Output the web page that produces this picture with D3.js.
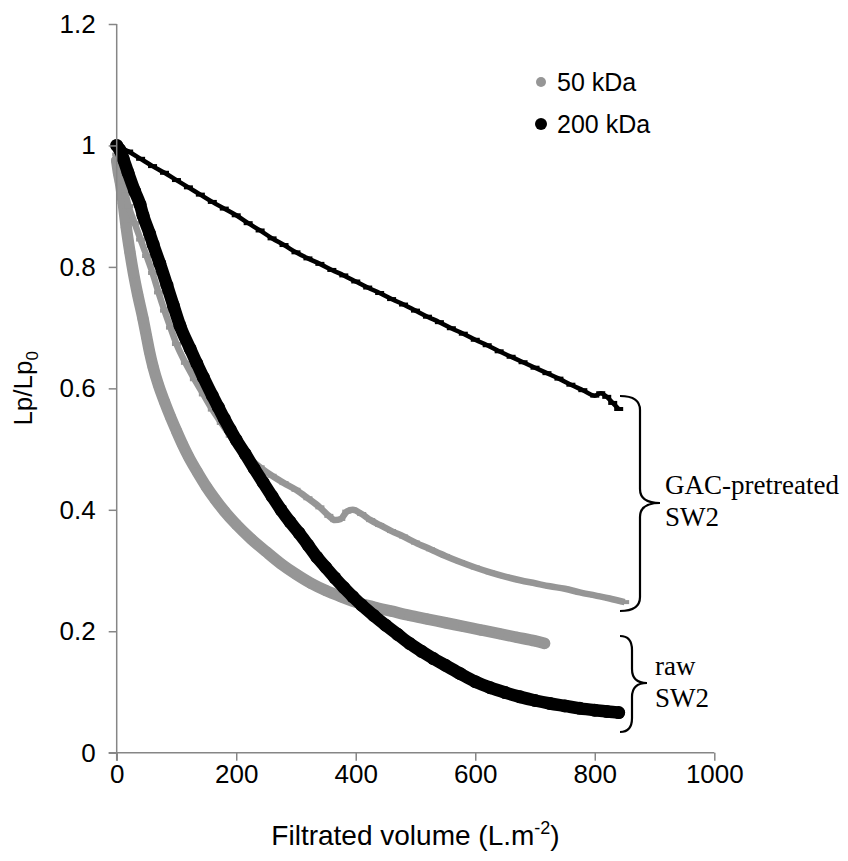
<!DOCTYPE html>
<html><head><meta charset="utf-8">
<script src="https://cdn.jsdelivr.net/npm/d3@7"></script>
<style>body{margin:0;background:#fff}svg{display:block}</style>
</head><body>
<svg id="c" width="848" height="861"></svg>
<script>
// ---- data ----
const xTicks = [0, 200, 400, 600, 800, 1000];
const yTicks = [0, 0.2, 0.4, 0.6, 0.8, 1, 1.2];
const seriesNames = ["50 kDa", "200 kDa"];
const groupLabels = [["GAC-pretreated", "SW2"], ["raw", "SW2"]];

// 50 kDa, raw SW2 (grey circles)
const vol50raw = [0,3,6,11,16,22,28,35,44,50,55,61,70,80,90,100,110,120,135,150,165,180,200,225,250,275,300,325,350,375,400,430,460,490,520,550,580,610,640,670,700,716];
const lp50raw  = [0.975,0.955,0.94,0.905,0.865,0.825,0.79,0.755,0.715,0.685,0.66,0.635,0.605,0.578,0.553,0.53,0.508,0.488,0.462,0.438,0.417,0.398,0.376,0.352,0.331,0.311,0.294,0.279,0.267,0.257,0.248,0.24,0.233,0.226,0.22,0.214,0.208,0.202,0.196,0.19,0.184,0.18];

// 50 kDa, GAC-pretreated SW2 (grey dashes)
const vol50gac = [0,5,10,15,20,30,40,50,60,70,80,90,100,115,130,145,160,175,190,205,220,240,260,280,300,320,340,355,365,375,385,395,410,425,440,460,480,500,525,550,575,600,625,650,675,700,725,750,775,800,825,850];
const lp50gac  = [0.985,0.96,0.94,0.92,0.9,0.872,0.845,0.818,0.79,0.758,0.728,0.7,0.673,0.642,0.615,0.59,0.565,0.543,0.522,0.503,0.487,0.47,0.456,0.444,0.433,0.419,0.404,0.39,0.383,0.385,0.397,0.4,0.393,0.383,0.375,0.365,0.356,0.346,0.335,0.324,0.314,0.305,0.297,0.29,0.284,0.279,0.274,0.27,0.264,0.259,0.254,0.248];

// 200 kDa, raw SW2 (black circles)
const vol200raw = [0,5,11,19,30,39,44,55,61,72,84,95,106,123,134,145,160,170,180,190,200,215,230,245,260,275,290,305,320,335,350,365,380,395,410,430,450,470,490,510,530,550,575,600,625,650,675,700,725,750,775,800,820,840];
const lp200raw  = [1.0,0.993,0.978,0.955,0.925,0.903,0.885,0.855,0.837,0.806,0.77,0.736,0.703,0.665,0.641,0.618,0.588,0.569,0.55,0.532,0.515,0.492,0.468,0.445,0.422,0.40,0.38,0.362,0.342,0.322,0.305,0.288,0.272,0.257,0.243,0.226,0.21,0.195,0.18,0.167,0.155,0.144,0.13,0.117,0.107,0.099,0.092,0.086,0.081,0.077,0.073,0.07,0.068,0.066];

// 200 kDa, GAC-pretreated SW2 (black dashes)
const vol200gac = [0,20,40,60,80,100,120,140,160,180,200,220,240,260,280,300,320,340,360,380,400,420,440,460,480,500,520,540,560,580,600,620,640,660,680,700,720,740,760,780,800,810,820,830,840];
const lp200gac  = [1.0,0.99,0.978,0.966,0.955,0.943,0.931,0.919,0.907,0.896,0.885,0.872,0.86,0.847,0.836,0.824,0.814,0.805,0.795,0.786,0.776,0.766,0.757,0.747,0.738,0.728,0.718,0.709,0.699,0.69,0.68,0.671,0.661,0.652,0.643,0.634,0.625,0.616,0.606,0.597,0.588,0.592,0.586,0.576,0.566];

// ---- drawing ----
const GREY = "#969696", BLACK = "#000000", AXIS = "#868686";
const SANS = "Liberation Sans, Arial, sans-serif";
const svg = d3.select("#c");
const x = d3.scaleLinear().domain([0, 1000]).range([116.7, 714.3]);
const y = d3.scaleLinear().domain([0, 1.2]).range([752.7, 24]);

const zip = (a, b) => a.map((v, i) => [v, b[i]]);
const line = d3.line().x(d => x(d[0])).y(d => y(d[1])).curve(d3.curveMonotoneX);

function circles(data, r, w, col) {
  svg.append("path").attr("d", line(data)).attr("fill", "none")
     .attr("stroke", col).attr("stroke-width", w)
     .attr("stroke-linejoin", "round").attr("stroke-linecap", "round");
  svg.append("g").selectAll("circle").data(data).join("circle")
     .attr("cx", d => x(d[0])).attr("cy", d => y(d[1])).attr("r", r).attr("fill", col);
}
function dashes(data, col, w) {
  svg.append("path").attr("d", line(data)).attr("fill", "none")
     .attr("stroke", col).attr("stroke-width", w).attr("stroke-linejoin", "round");
  svg.append("g").selectAll("rect").data(data).join("rect")
     .attr("x", d => x(d[0]) - 4.5).attr("y", d => y(d[1]) - 2)
     .attr("width", 9).attr("height", 4).attr("fill", col);
}

circles(zip(vol50raw, lp50raw), 5.5, 11.5, GREY);
dashes(zip(vol50gac, lp50gac), GREY, 6.5);
circles(zip(vol200raw, lp200raw), 6.5, 12.5, BLACK);
dashes(zip(vol200gac, lp200gac), BLACK, 4.5);

// axes
const ya = svg.append("g").attr("transform", `translate(${x(0)},0)`)
  .call(d3.axisLeft(y).tickValues(yTicks).tickSize(8).tickPadding(13)
        .tickFormat(d => d === 0 ? "0" : d === 1 ? "1" : d3.format(".1f")(d)));
const xa = svg.append("g").attr("transform", `translate(0,${y(0)})`)
  .call(d3.axisBottom(x).tickValues(xTicks).tickSize(8).tickPadding(4).tickFormat(d3.format("d")));
[ya, xa].forEach(g => {
  g.select(".domain").attr("stroke", AXIS).attr("stroke-width", 1.5);
  g.selectAll(".tick line").attr("stroke", AXIS).attr("stroke-width", 1.5);
  g.selectAll("text").attr("fill", "#000").style("font-family", SANS).style("font-size", "26px");
});
ya.select(".domain").attr("d", `M0,${y(1.2)}V${y(0) + 8}`);
xa.select(".domain").attr("d", `M${x(0) - 8},0H${x(1000)}`);

// axis titles
const xt = svg.append("text").attr("x", (x(0) + x(1000)) / 2).attr("y", 845)
  .attr("text-anchor", "middle").style("font-family", SANS).style("font-size", "28px");
xt.append("tspan").text("Filtrated volume (L.m");
xt.append("tspan").attr("dy", -11).style("font-size", "18px").text("-2");
xt.append("tspan").attr("dy", 11).text(")");

const yt = svg.append("text").attr("transform", `translate(32,${(y(0) + y(1.2)) / 2}) rotate(-90)`)
  .attr("text-anchor", "middle").style("font-family", SANS).style("font-size", "26px");
yt.append("tspan").text("Lp/Lp");
yt.append("tspan").attr("dy", 6).style("font-size", "17px").text("0");

// legend
const leg = svg.append("g").style("font-family", SANS).style("font-size", "25px");
[[GREY, 5, 82], [BLACK, 6, 124]].forEach((s, i) => {
  leg.append("circle").attr("cx", 541).attr("cy", s[2]).attr("r", s[1]).attr("fill", s[0]);
  leg.append("text").attr("x", 557).attr("y", s[2]).attr("dy", "0.35em").text(seriesNames[i]);
});

// braces
function brace(x0, xs, xtip, top, mid, bot) {
  const p = d3.path();
  const r = 14;
  p.moveTo(x0, top);
  p.quadraticCurveTo(xs, top, xs, top + r);
  p.lineTo(xs, mid - r);
  p.quadraticCurveTo(xs, mid, xtip, mid);
  p.quadraticCurveTo(xs, mid, xs, mid + r);
  p.lineTo(xs, bot - r);
  p.quadraticCurveTo(xs, bot, x0, bot);
  svg.append("path").attr("d", p.toString()).attr("fill", "none").attr("stroke", "#000").attr("stroke-width", 2.2);
}
brace(620, 640, 660, 396, 503, 611);
brace(620, 632, 647, 636, 683, 732);

const lab = svg.append("g").style("font-family", "Liberation Serif, 'Times New Roman', serif").style("font-size", "27px");
lab.append("text").attr("x", 665).attr("y", 494).text(groupLabels[0][0]);
lab.append("text").attr("x", 665).attr("y", 526).text(groupLabels[0][1]);
lab.append("text").attr("x", 655).attr("y", 675).text(groupLabels[1][0]);
lab.append("text").attr("x", 655).attr("y", 707).text(groupLabels[1][1]);
</script>
</body></html>
